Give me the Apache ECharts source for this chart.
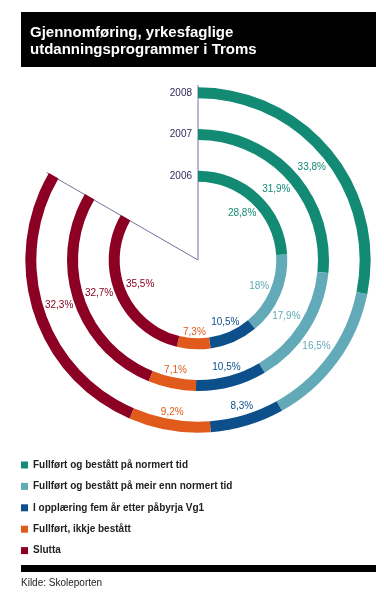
<!DOCTYPE html>
<html><head><meta charset="utf-8">
<script src="https://cdn.jsdelivr.net/npm/echarts@6/dist/echarts.min.js"></script>
<style>html,body{margin:0;padding:0;background:#fff}#c{width:384px;height:595px}</style>
</head><body><div id="c"></div>
<script>
const years = ['2006', '2007', '2008'];
const seriesNames = [
  'Fullført og bestått på normert tid',
  'Fullført og bestått på meir enn normert tid',
  'I opplæring fem år etter påbyrja Vg1',
  'Fullført, ikkje bestått',
  'Slutta'
];
const normert = [28.8, 31.9, 33.8];
const meirEnn = [18, 17.9, 16.5];
const iOpplaering = [10.5, 10.5, 8.3];
const ikkjeBestatt = [7.3, 7.1, 9.2];
const slutta = [35.5, 32.7, 32.3];
const values = [normert, meirEnn, iOpplaering, ikkjeBestatt, slutta];
const colors = ['#128a74', '#62aab7', '#0d4f8b', '#e05a1c', '#8c0023'];

const FONT = '"Liberation Sans", Arial, sans-serif';
const CENTER = [198, 260];
const fmt = v => String(v).replace('.', ',') + '%';

// push each label inward so its box sits just inside its ring
const pushInward = p => {
  const r = p.labelRect;
  const vx = r.x + r.width / 2 - CENTER[0], vy = r.y + r.height / 2 - CENTER[1];
  const d = Math.hypot(vx, vy) || 1;
  const ux = vx / d, uy = vy / d;
  const e = Math.abs(ux) * r.width / 2 + Math.abs(uy) * r.height / 2 + 0.5;
  return { dx: -ux * e, dy: -uy * e };
};

const series = [];
values.forEach((arr, i) => {
  series.push({
    name: seriesNames[i], type: 'bar', coordinateSystem: 'polar', polarIndex: 0,
    stack: 'main', data: arr, barWidth: 11, silent: true,
    itemStyle: { color: colors[i] }
  });
});
values.forEach((arr, i) => {
  series.push({
    name: 'lab' + i, type: 'bar', coordinateSystem: 'polar', polarIndex: 1,
    stack: 'lab', data: arr, barWidth: 1, silent: true,
    itemStyle: { color: 'rgba(0,0,0,0)' },
    label: { show: true, position: 'middle', rotate: 0, formatter: p => fmt(p.value),
      color: colors[i], fontSize: 10, fontFamily: FONT },
    labelLayout: pushInward
  });
});

const hiddenAngle = i => ({ polarIndex: i, type: 'value', min: 0, max: 120, startAngle: 90,
  axisLine: { show: false }, axisTick: { show: false }, axisLabel: { show: false }, splitLine: { show: false } });

const chart = echarts.init(document.getElementById('c'), null, { renderer: 'canvas' });
chart.setOption({
  animation: false,
  backgroundColor: '#fff',
  title: [
    { text: 'Gjennomføring, yrkesfaglige\nutdanningsprogrammer i Troms', left: 30, top: 24, padding: 0,
      textStyle: { color: '#fff', fontSize: 15, fontWeight: 'bold', lineHeight: 17, fontFamily: FONT } },
    { text: 'Kilde: Skoleporten', left: 21, top: 578, padding: 0,
      textStyle: { color: '#222', fontSize: 10, fontWeight: 'normal', fontFamily: FONT } }
  ],
  graphic: [
    { type: 'rect', shape: { x: 21, y: 12, width: 355, height: 55 }, style: { fill: '#000' } },
    { type: 'rect', shape: { x: 21, y: 565, width: 355, height: 7 }, style: { fill: '#000' } }
  ],
  legend: {
    data: seriesNames, orient: 'vertical', left: 21, top: 459, padding: 0,
    itemWidth: 7, itemHeight: 7, itemGap: 9.4, icon: 'rect', selectedMode: false,
    textStyle: { color: '#222', fontSize: 10, fontWeight: 'bold', fontFamily: FONT, lineHeight: 12 }
  },
  polar: [
    { center: CENTER, radius: [63, 188] },
    { center: CENTER, radius: [57.5, 182.5] },
    { center: CENTER, radius: [0, 175] }
  ],
  angleAxis: [
    hiddenAngle(0),
    hiddenAngle(1),
    { polarIndex: 2, type: 'value', min: 0, max: 120, interval: 100, startAngle: 90,
      axisLine: { show: false }, axisTick: { show: false }, axisLabel: { show: false },
      splitLine: { show: true, lineStyle: { color: '#7b6fa0', width: 1 } } }
  ],
  radiusAxis: [
    { polarIndex: 0, type: 'category', data: years, z: 10,
      axisLine: { show: false }, axisTick: { show: false }, splitLine: { show: false },
      axisLabel: { show: true, margin: 6, color: '#33285a', fontSize: 10, fontFamily: FONT } },
    { polarIndex: 1, type: 'category', data: years,
      axisLine: { show: false }, axisTick: { show: false }, splitLine: { show: false }, axisLabel: { show: false } },
    { polarIndex: 2, type: 'value', min: 0, max: 1,
      axisLine: { show: false }, axisTick: { show: false }, splitLine: { show: false }, axisLabel: { show: false } }
  ],
  series: series
});
</script>
</body></html>
